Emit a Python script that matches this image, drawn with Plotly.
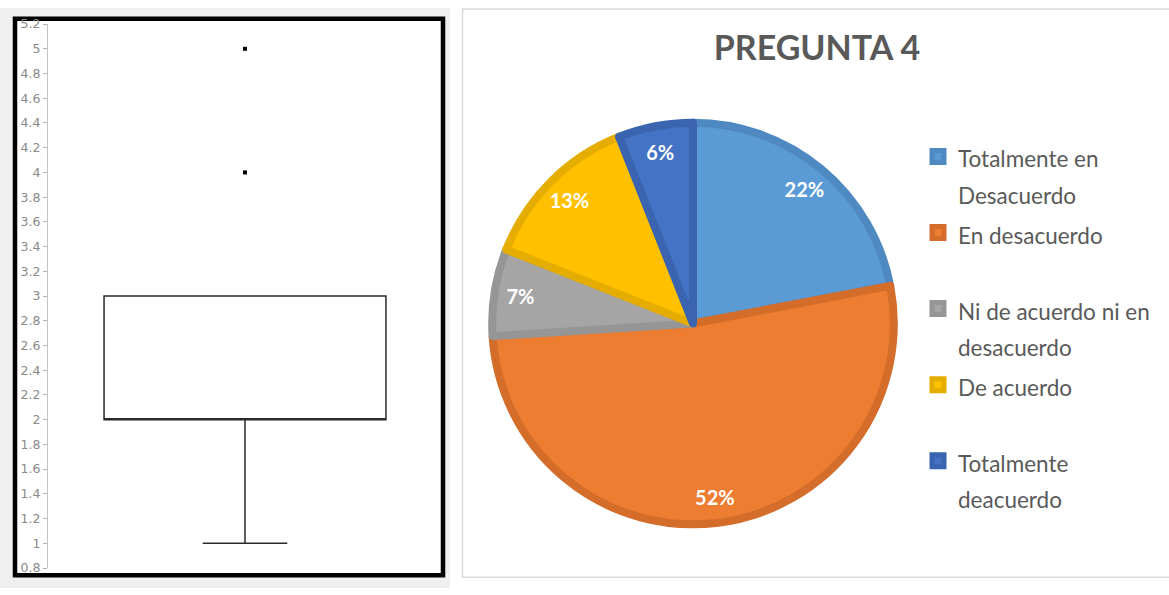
import plotly.graph_objects as go

W, H = 1169, 595

# ---- data ----
box_q1 = [2]
box_median = [2]
box_q3 = [3]
box_lower = [1]
box_upper = [3]
outliers = [4, 5]
y_ticks = [0.8, 1, 1.2, 1.4, 1.6, 1.8, 2, 2.2, 2.4, 2.6, 2.8, 3, 3.2, 3.4, 3.6, 3.8, 4, 4.2, 4.4, 4.6, 4.8, 5, 5.2]
y_tick_labels = ["0.8", "1", "1.2", "1.4", "1.6", "1.8", "2", "2.2", "2.4", "2.6", "2.8", "3",
                 "3.2", "3.4", "3.6", "3.8", "4", "4.2", "4.4", "4.6", "4.8", "5", "5.2"]

pie_labels = ["Totalmente en<br>Desacuerdo", "En desacuerdo", "Ni de acuerdo ni en<br>desacuerdo",
              "De acuerdo", "Totalmente<br>deacuerdo"]
pie_values = [22, 52, 7, 13, 6]
pie_colors = ["#5B9BD5", "#ED7D31", "#A5A5A5", "#FFC000", "#4472C4"]
pie_edge = ["#4E89C2", "#D46D2A", "#969696", "#E5AD00", "#3A64B0"]
title_text = "PREGUNTA 4"

# the photographed page shows the figure slightly squeezed vertically
# (figure row y appears at 7.16 + 0.9758*y); layout targets are given in
# picture pixels and mapped back here.
SY, OY = 0.9758, 7.16


def px(x):
    return x / W


def fy(y):
    return (y - OY) / SY


def py(y):
    return min(1.0, max(0.0, 1 - fy(y) / H))


# legend labels: every entry two lines tall
leg_labels = []
for lab in pie_labels:
    parts = lab.split("<br>")
    if len(parts) == 1:
        parts.append("&nbsp;")
    leg_labels.append("<br>".join("<span style='font-size:22.5px'>%s</span>" % p for p in parts))

pie_cy = fy(323)
pie_r = 206
pie_domain = dict(x=[px(693 - pie_r), px(693 + pie_r)],
                  y=[1 - (pie_cy + pie_r) / H, 1 - (pie_cy - pie_r) / H])

fig = go.Figure()

fig.add_trace(go.Box(
    x=[0], q1=box_q1, median=box_median, q3=box_q3,
    lowerfence=box_lower, upperfence=box_upper,
    width=1.431, whiskerwidth=0.30, boxpoints=False,
    fillcolor="white", line=dict(color="#2a2a2a", width=1.5),
    xaxis="x", yaxis="y", showlegend=False, hoverinfo="skip",
))
fig.add_trace(go.Scatter(
    x=[0] * len(outliers), y=outliers, mode="markers",
    marker=dict(symbol="square", size=4, color="black", line=dict(width=0)),
    showlegend=False, hoverinfo="skip",
))

# the pie itself
fig.add_trace(go.Pie(
    labels=leg_labels, values=pie_values, sort=False, direction="clockwise", rotation=0,
    marker=dict(colors=pie_colors, line=dict(color=pie_edge, width=8)),
    textinfo="none",
    domain=pie_domain,
    hoverinfo="skip",
))
# transparent ring of the same data, only to place the percentage labels near the rim
fig.add_trace(go.Pie(
    labels=leg_labels, values=pie_values, sort=False, direction="clockwise", rotation=0,
    hole=0.74,
    marker=dict(colors=["rgba(0,0,0,0)"] * len(pie_values), line=dict(width=0)),
    textinfo="percent", textposition="inside", insidetextorientation="horizontal",
    textfont=dict(family="Lato", size=20, color="white", weight="bold"),
    domain=pie_domain, showlegend=False,
    hoverinfo="skip",
))

shapes = [
    # gray panel behind box plot
    dict(type="rect", xref="paper", yref="paper", x0=0, x1=px(450), y0=0, y1=1,
         fillcolor="#efefef", line=dict(width=0), layer="below"),
    # black frame
    dict(type="rect", xref="paper", yref="paper", x0=px(15), x1=px(443), y0=py(575), y1=py(18),
         fillcolor="white", line=dict(color="black", width=4.5), layer="below"),
    # pie panel border
    dict(type="rect", xref="paper", yref="paper", x0=px(462.5), x1=px(1180), y0=py(577), y1=1 - 1 / H,
         fillcolor="rgba(0,0,0,0)", line=dict(color="#d9d9d9", width=1.5), layer="below"),
]

fig.update_layout(
    width=W, height=H,
    margin=dict(l=0, r=0, t=0, b=0),
    paper_bgcolor="white", plot_bgcolor="rgba(0,0,0,0)",
    shapes=shapes,
    xaxis=dict(domain=[px(48), px(442)], range=[-1, 1], visible=False, fixedrange=True),
    yaxis=dict(domain=[py(567.75), py(23.25)], range=[0.8, 5.2],
               tickmode="array", tickvals=y_ticks, ticktext=y_tick_labels,
               ticks="outside", ticklen=4, tickcolor="#b0b0b0", tickwidth=1,
               showline=True, linecolor="#c4c4c4", linewidth=1,
               showgrid=False, zeroline=False,
               tickfont=dict(family="DejaVu Sans", size=12.5, color="#8a8a8a")),
    title=dict(text=title_text, xref="paper", yref="paper", x=px(817), xanchor="center",
               y=py(47), yanchor="middle",
               font=dict(family="Lato", size=34, color="#595959", weight="bold")),
    legend=dict(x=px(918), xanchor="left", y=py(131), yanchor="top",
                font=dict(family="Lato", size=28.1, color="#595959"),
                bgcolor="rgba(0,0,0,0)", valign="top", traceorder="normal"),
    showlegend=True,
)

page_css = (
    "var s=document.createElement('style');"
    "s.textContent='html,body{margin:0 !important;padding:0 !important;overflow:hidden !important;}';"
    "document.head.appendChild(s);"
)

fig.write_html("out.html", config={"displayModeBar": False}, post_script=page_css)
